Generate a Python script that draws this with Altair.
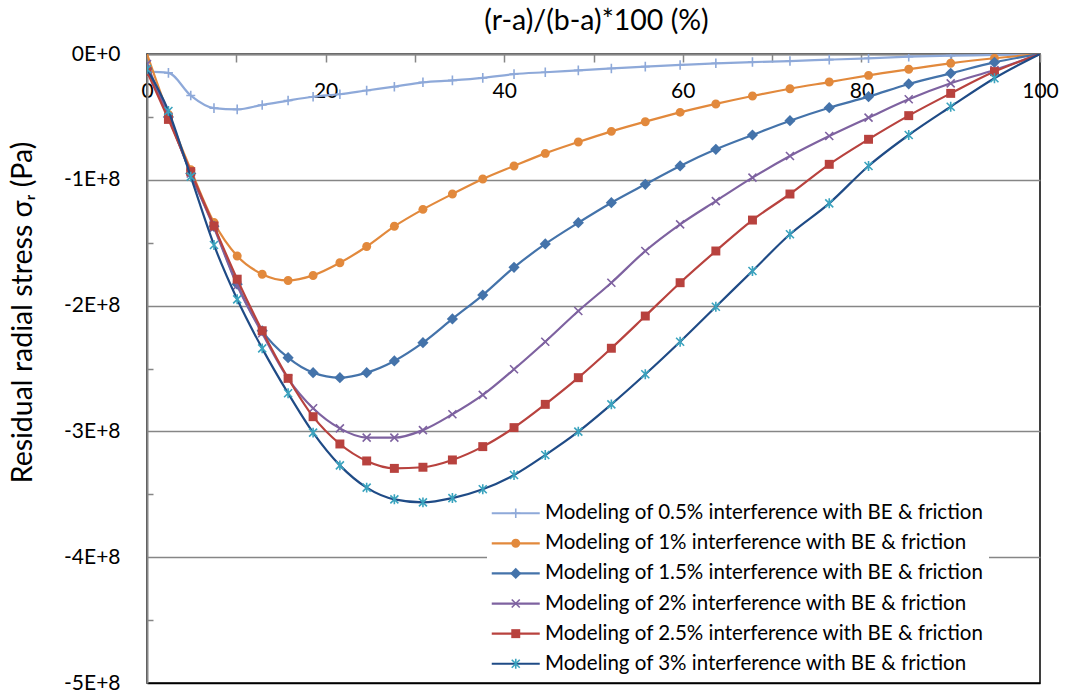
import altair as alt
import pandas as pd

# x positions of the computed points: (r-a)/(b-a)*100 (%)
X = [0, 2.4, 4.9, 7.5, 10.1, 12.9, 15.8, 18.6, 21.6, 24.6, 27.7, 30.9, 34.2, 37.6,
     41.1, 44.6, 48.3, 52.0, 55.8, 59.7, 63.7, 67.8, 72.0, 76.4, 80.8, 85.3, 90.0, 94.9, 100]

# residual radial stress, in units of 1E+8 Pa
S05 = [-0.14, -0.15, -0.33, -0.43, -0.44, -0.405, -0.37, -0.34, -0.32, -0.29, -0.26, -0.225,
       -0.21, -0.19, -0.16, -0.145, -0.13, -0.115, -0.10, -0.087, -0.074, -0.064, -0.056,
       -0.045, -0.034, -0.021, -0.013, -0.008, 0]
S1 = [0, -0.48, -0.92, -1.34, -1.606, -1.75, -1.80, -1.76, -1.66, -1.53, -1.37, -1.235,
      -1.113, -0.994, -0.89, -0.79, -0.70, -0.615, -0.538, -0.464, -0.397, -0.334, -0.276,
      -0.223, -0.17, -0.122, -0.074, -0.034, 0]
S15 = [-0.12, -0.5, -0.95, -1.37, -1.83, -2.2, -2.414, -2.533, -2.573, -2.533, -2.44, -2.295,
       -2.106, -1.916, -1.696, -1.51, -1.341, -1.182, -1.036, -0.89, -0.758, -0.644, -0.53,
       -0.427, -0.339, -0.238, -0.154, -0.066, 0]
S2 = [-0.08, -0.5, -0.95, -1.38, -1.84, -2.22, -2.58, -2.816, -2.976, -3.05, -3.05, -2.99,
      -2.864, -2.71, -2.506, -2.287, -2.043, -1.818, -1.566, -1.354, -1.169, -0.983, -0.811,
      -0.652, -0.506, -0.36, -0.233, -0.127, 0]
S25 = [-0.14, -0.52, -0.935, -1.367, -1.79, -2.2, -2.578, -2.883, -3.10, -3.235, -3.294, -3.285,
       -3.227, -3.121, -2.97, -2.785, -2.573, -2.339, -2.083, -1.818, -1.566, -1.32, -1.113,
       -0.877, -0.678, -0.49, -0.313, -0.14, 0]
S3 = [-0.12, -0.453, -0.975, -1.518, -1.95, -2.34, -2.697, -3.01, -3.27, -3.447, -3.54, -3.564,
      -3.53, -3.46, -3.347, -3.188, -3.002, -2.785, -2.546, -2.287, -2.009, -1.725, -1.433,
      -1.187, -0.89, -0.644, -0.419, -0.193, 0]

NAMES = [
    "Modeling of 0.5% interference with BE & friction",
    "Modeling of 1% interference with BE & friction",
    "Modeling of 1.5% interference with BE & friction",
    "Modeling of 2% interference with BE & friction",
    "Modeling of 2.5% interference with BE & friction",
    "Modeling of 3% interference with BE & friction",
]
SERIES = [S05, S1, S15, S2, S25, S3]

LINE_COLORS = ["#8EA9D9", "#E2893C", "#4473AA", "#7E62A0", "#B8423E", "#1F4B86"]
MARKER_COLORS = ["#8EA9D9", "#E2893C", "#4473AA", "#7E62A0", "#B8423E", "#3AA3BE"]
MARKER_FILLED = [False, True, True, False, True, False]
MARKER_PATHS = [
    "M-0.56,0L0.56,0M0,-0.6L0,0.6",
    "M-0.56,0A0.56,0.56,0,1,1,0.56,0A0.56,0.56,0,1,1,-0.56,0Z",
    "M0,-0.7L0.7,0L0,0.7L-0.7,0Z",
    "M-0.5,-0.5L0.5,0.5M-0.5,0.5L0.5,-0.5",
    "M-0.56,-0.56L0.56,-0.56L0.56,0.56L-0.56,0.56Z",
    "M-0.5,-0.5L0.5,0.5M-0.5,0.5L0.5,-0.5M0,-0.62L0,0.62",
]
LINE_PATH = "M-3,0L3,0"

rows = []
for name, vals in zip(NAMES, SERIES):
    for xv, v in zip(X, vals):
        rows.append({"series": name, "x": xv, "y": v * 1e8})
df = pd.DataFrame(rows)

leg_df = pd.DataFrame({"leg_line": NAMES, "leg_marker": NAMES,
                       "x": [-50] * len(NAMES), "y": [-1e8] * len(NAMES)})

W, H = 893, 629
FONT = "Lato"
GRAY = "#868686"

xscale = alt.Scale(domain=[0, 100], nice=False, zero=False)
yscale = alt.Scale(domain=[-5e8, 0], nice=False, zero=False)

# x axis drawn along the top edge (bottom axis moved up), ticks pointing down, labels below
x_axis = alt.Axis(
    orient="bottom", offset=-H, values=list(range(0, 101, 10)),
    labelExpr="datum.value % 20 == 0 ? datum.label : ''",
    tickSize=8, tickColor=GRAY, tickWidth=1.5,
    domainColor=GRAY, domainWidth=2, grid=False,
    labelFont=FONT, labelFontSize=21, labelColor="black", labelPadding=18,
    labelFlush=False, labelOverlap=False,
    title="(r-a)/(b-a)*100 (%)", titleFont=FONT, titleFontSize=28.5,
    titleFontWeight="normal", titleColor="black",
    titleX=449, titleY=-34, titleBaseline="middle", titleAlign="center",
)

y_axis_left = alt.Axis(
    orient="left", values=[-5e8, -4e8, -3e8, -2e8, -1e8, 0],
    labelExpr="datum.value == 0 ? '0E+0' : '-' + round(abs(datum.value) / 1e8) + 'E+8'",
    ticks=False, labelPadding=27, labelFlush=False, labelOverlap=False,
    labelFont=FONT, labelFontSize=21, labelColor="black",
    domainColor=GRAY, domainWidth=2,
    grid=True, gridWidth=1.5,
    gridColor={"condition": {"test": "datum.value <= -4.99e8", "value": "black"}, "value": GRAY},
    title="Residual radial stress σᵣ (Pa)", titleFont=FONT, titleFontSize=28.5,
    titleFontWeight="normal", titleColor="black", titleAngle=270,
    titleX=-125, titleY=258, titleBaseline="middle", titleAlign="center",
)

y_axis_right = alt.Axis(
    orient="right", offset=-W, values=[-4.5e8, -3.5e8, -2.5e8, -1.5e8, -0.5e8],
    labels=False, domain=False, grid=False, ticks=True,
    tickSize=6, tickColor=GRAY, tickWidth=1.5, title="",
)

X_ENC = alt.X("x:Q", scale=xscale, axis=x_axis)

layers = []
for i, (name, lc, mc, path, filled) in enumerate(
        zip(NAMES, LINE_COLORS, MARKER_COLORS, MARKER_PATHS, MARKER_FILLED)):
    base = alt.Chart(df).transform_filter(alt.datum.series == name)
    line = base.mark_line(interpolate="monotone", strokeWidth=2.2, color=lc, clip=True).encode(
        x=X_ENC,
        y=alt.Y("y:Q", scale=yscale, axis=y_axis_left if i == 0 else None),
        order="x:Q",
    )
    if filled:
        pt_mark = dict(filled=True, color=mc, strokeWidth=0)
    else:
        pt_mark = dict(filled=False, color=mc, strokeWidth=1.6)
    pts = base.transform_filter(alt.datum.y < 0).mark_point(
        shape=path, size=256, opacity=1, clip=True, **pt_mark
    ).encode(
        x=X_ENC,
        y=alt.Y("y:Q", scale=yscale, axis=y_axis_right if i == 0 else None),
    )
    layers += [line, pts]

LEG_X, LEG_Y = 340, 444
common_leg = dict(
    orient="none", legendX=LEG_X, legendY=LEG_Y, title=None, padding=5,
    symbolSize=256, symbolOffset=13.5, labelOffset=19,
    labelFont=FONT, labelFontSize=20.5, labelLimit=700, rowPadding=9.1,
)

legend_lines = alt.Chart(leg_df).mark_point(
    filled=False, clip=True, shape=LINE_PATH, size=256, strokeWidth=2.2, opacity=1
).encode(
    x=X_ENC,
    y=alt.Y("y:Q", scale=yscale, axis=None),
    color=alt.Color("leg_line:N", scale=alt.Scale(range=LINE_COLORS),
                    legend=alt.Legend(symbolType=LINE_PATH, symbolStrokeWidth=2.2,
                                      fillColor="white", labelColor="black", **common_leg)),
)

STROKES = [c if not f else "transparent" for c, f in zip(MARKER_COLORS, MARKER_FILLED)]
leg_b = dict(symbolStrokeWidth=1.6, labelOpacity=0, **common_leg)
legend_markers = alt.Chart(leg_df).mark_point(
    filled=True, clip=True, size=256, strokeWidth=1.6, opacity=1
).encode(
    x=X_ENC,
    y=alt.Y("y:Q", scale=yscale, axis=None),
    fill=alt.Fill("leg_marker:N", scale=alt.Scale(range=MARKER_COLORS), legend=alt.Legend(**leg_b)),
    stroke=alt.Stroke("leg_marker:N", scale=alt.Scale(range=STROKES), legend=alt.Legend(**leg_b)),
    shape=alt.Shape("leg_marker:N", scale=alt.Scale(range=MARKER_PATHS), legend=alt.Legend(**leg_b)),
)

layers += [legend_lines, legend_markers]

chart = alt.layer(*layers).resolve_axis(y="independent").properties(
    width=W, height=H,
    padding={"left": 147, "top": 54, "right": 25, "bottom": 9},
    autosize=alt.AutoSizeParams(type="none"),
    background="white",
).configure_view(stroke="black", strokeWidth=1.5)

chart.save("out.html", embed_options={"renderer": "svg", "actions": False})
